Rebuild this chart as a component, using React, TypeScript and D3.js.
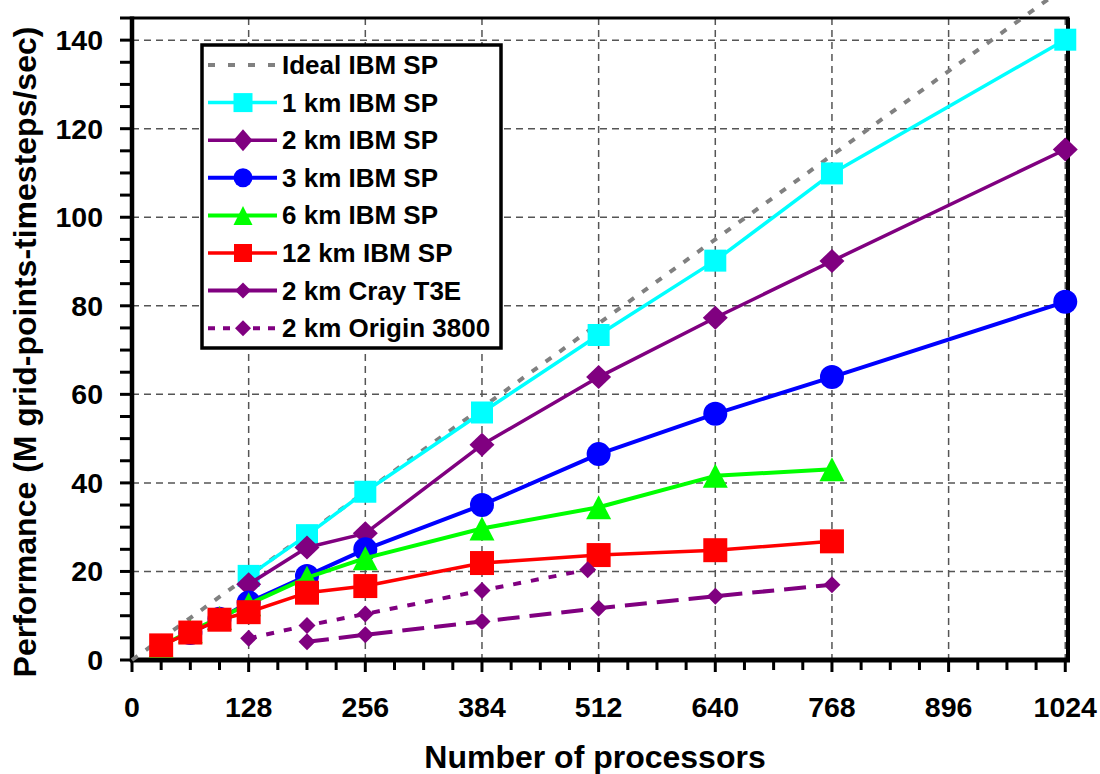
import React from 'react';
import * as d3 from 'd3';

// ---- data ----
const procs1km = [128, 192, 256, 384, 512, 640, 768, 1024];
const perf1km = [19, 28.2, 38, 55.9, 73.4, 90.2, 109.9, 140.1];
const procs2km = [128, 192, 256, 384, 512, 640, 768, 1024];
const perf2km = [17.1, 25.4, 28.6, 48.6, 63.9, 77.3, 90.1, 115.3];
const procs3km = [64, 96, 128, 192, 256, 384, 512, 640, 768, 1024];
const perf3km = [6.1, 9.3, 13, 19, 25, 35, 46.5, 55.6, 63.9, 80.9];
const procs6km = [32, 64, 96, 128, 192, 256, 384, 512, 640, 768];
const perf6km = [3.2, 6.5, 9.5, 12.6, 18.6, 23, 29.7, 34.5, 41.6, 43.1];
const procs12km = [32, 64, 96, 128, 192, 256, 384, 512, 640, 768];
const perf12km = [3.3, 6.2, 9.1, 10.8, 15.2, 16.7, 21.9, 23.7, 24.8, 26.8];
const procsT3E = [192, 256, 384, 512, 640, 768];
const perfT3E = [4.1, 5.7, 8.7, 11.7, 14.4, 17.0];
const procsOrigin = [128, 192, 256, 384, 500];
const perfOrigin = [4.9, 7.8, 10.4, 15.7, 20.4];
const procsIdeal = [0, 1024];
const perfIdeal = [0, 152];

const xTicks = [0, 128, 256, 384, 512, 640, 768, 896, 1024];
const yTicks = [0, 20, 40, 60, 80, 100, 120, 140];
const xTitle = 'Number of processors';
const yTitle = 'Performance (M grid-points-timesteps/sec)';

type Marker = 'square' | 'diamond' | 'circle' | 'triangle' | 'none';
interface Series {
  name: string;
  xs: number[];
  ys: number[];
  color: string;
  width: number;
  dash?: string;
  legendDash?: string;
  marker: Marker;
  mw: number;
  mh: number;
  lw: number;
  lh: number;
}

const series: Series[] = [
  { name: 'Ideal IBM SP', xs: procsIdeal, ys: perfIdeal, color: '#808080', width: 4, dash: '7,10', legendDash: '7,13', marker: 'none', mw: 0, mh: 0, lw: 0, lh: 0 },
  { name: '1 km IBM SP', xs: procs1km, ys: perf1km, color: '#00FFFF', width: 3.5, marker: 'square', mw: 22, mh: 22, lw: 19, lh: 19 },
  { name: '2 km IBM SP', xs: procs2km, ys: perf2km, color: '#800080', width: 3.5, marker: 'diamond', mw: 25, mh: 24, lw: 19, lh: 22 },
  { name: '3 km IBM SP', xs: procs3km, ys: perf3km, color: '#0000FF', width: 4, marker: 'circle', mw: 24, mh: 24, lw: 19, lh: 19 },
  { name: '6 km IBM SP', xs: procs6km, ys: perf6km, color: '#00FF00', width: 4, marker: 'triangle', mw: 25, mh: 24, lw: 19, lh: 19 },
  { name: '12 km IBM SP', xs: procs12km, ys: perf12km, color: '#FF0000', width: 3.5, marker: 'square', mw: 24, mh: 24, lw: 18, lh: 18 },
  { name: '2 km Cray T3E', xs: procsT3E, ys: perfT3E, color: '#800080', width: 4, dash: '22,10', marker: 'diamond', mw: 17, mh: 17, lw: 16, lh: 16 },
  { name: '2 km Origin 3800', xs: procsOrigin, ys: perfOrigin, color: '#800080', width: 4, dash: '8,10', legendDash: '7,8', marker: 'diamond', mw: 17, mh: 17, lw: 16, lh: 16 },
];

const W = 1100;
const H = 774;
const L = 132, R = 1068, T = 18, B = 660;
const FONT = '"Liberation Sans", Arial, Helvetica, sans-serif';

function markerPath(m: Marker, w: number, h: number): string {
  const hw = w / 2, hh = h / 2;
  switch (m) {
    case 'square':
      return `M${-hw},${-hh}H${hw}V${hh}H${-hw}Z`;
    case 'diamond':
      return `M0,${-hh}L${hw},0L0,${hh}L${-hw},0Z`;
    case 'circle':
      return d3.symbol(d3.symbolCircle, Math.PI * hw * hw)() || '';
    case 'triangle':
      return `M0,${-hh}L${hw},${hh}L${-hw},${hh}Z`;
    default:
      return '';
  }
}

export default function App() {
  const x = d3.scaleLinear().domain([0, 1027]).range([L, R]);
  const y = d3.scaleLinear().domain([0, 145]).range([B, T]);
  const line = d3.line<[number, number]>().x(d => x(d[0])).y(d => y(d[1]));

  const xMinor = d3.range(0, 1025, 32);
  const yMinor = d3.range(0, 146, 5);

  const legX = 202, legY = 45, legW = 299, legH = 303;
  const rowY0 = 65, rowStep = 37.6;

  return (
    <svg width={W} height={H} viewBox={`0 0 ${W} ${H}`}
      style={{ position: 'absolute', left: 0, top: 0, background: '#fff' }}
      fontFamily={FONT} fontWeight="bold">
      <rect x={0} y={0} width={W} height={H} fill="#fff" />
      {/* grid */}
      <g stroke="#555" strokeWidth={1.5} strokeDasharray="7,5" fill="none">
        {yTicks.filter(t => t > 0).map(t => (
          <line key={'gy' + t} x1={L} x2={R} y1={y(t)} y2={y(t)} />
        ))}
        {xTicks.filter(t => t > 0).map(t => (
          <line key={'gx' + t} x1={x(t)} x2={x(t)} y1={T} y2={B} />
        ))}
      </g>
      {/* frame */}
      <line x1={L} x2={R + 1.5} y1={T} y2={T} stroke="#000" strokeWidth={3} />
      <line x1={R} x2={R} y1={T} y2={B} stroke="#000" strokeWidth={4} />
      {/* ticks */}
      <g stroke="#000" strokeWidth={3}>
        {yMinor.map(t => (
          <line key={'ty' + t} x1={L - 12} x2={L} y1={y(t)} y2={y(t)} />
        ))}
        {xMinor.map(t => (
          <line key={'tx' + t} x1={x(t)} x2={x(t)} y1={B} y2={B + (t % 128 === 0 ? 12 : 10)} />
        ))}
      </g>
      <line x1={L} x2={L} y1={T - 1.5} y2={B + 2} stroke="#000" strokeWidth={4.5} />
      <line x1={L - 2} x2={R + 2} y1={B} y2={B} stroke="#000" strokeWidth={5} />
      {/* tick labels */}
      <g fontSize={28.5} fill="#000">
        {yTicks.map(t => (
          <text key={'ly' + t} x={103} y={y(t)} textAnchor="end" dominantBaseline="central">{t}</text>
        ))}
        {xTicks.map(t => (
          <text key={'lx' + t} x={x(t)} y={717} textAnchor="middle">{t}</text>
        ))}
      </g>
      {/* titles */}
      <text x={595} y={768} textAnchor="middle" fontSize={32} fill="#000">{xTitle}</text>
      <text transform={`translate(36,352) rotate(-90)`} textAnchor="middle" fontSize={32} fill="#000">{yTitle}</text>
      {/* series */}
      {series.map(s => {
        const pts = s.xs.map((v, i) => [v, s.ys[i]] as [number, number]);
        const mp = markerPath(s.marker, s.mw, s.mh);
        return (
          <g key={s.name}>
            <path d={line(pts) || ''} fill="none" stroke={s.color} strokeWidth={s.width}
              strokeDasharray={s.dash} strokeLinejoin="round" />
            {s.marker !== 'none' && pts.map((p, i) => (
              <path key={i} d={mp} transform={`translate(${x(p[0])},${y(p[1])})`} fill={s.color} />
            ))}
          </g>
        );
      })}
      {/* legend */}
      <rect x={legX} y={legY} width={legW} height={legH} fill="#fff" stroke="#000" strokeWidth={3.5} />
      {series.map((s, i) => {
        const cy = rowY0 + i * rowStep;
        const mp = markerPath(s.marker, s.lw, s.lh);
        return (
          <g key={'leg' + s.name}>
            <line x1={208} x2={277} y1={cy} y2={cy} stroke={s.color} strokeWidth={s.width}
              strokeDasharray={s.legendDash} />
            {s.marker !== 'none' && (
              <path d={mp} transform={`translate(243,${cy})`} fill={s.color} />
            )}
            <text x={282} y={cy} dominantBaseline="central" fontSize={26} fill="#000">{s.name}</text>
          </g>
        );
      })}
    </svg>
  );
}
